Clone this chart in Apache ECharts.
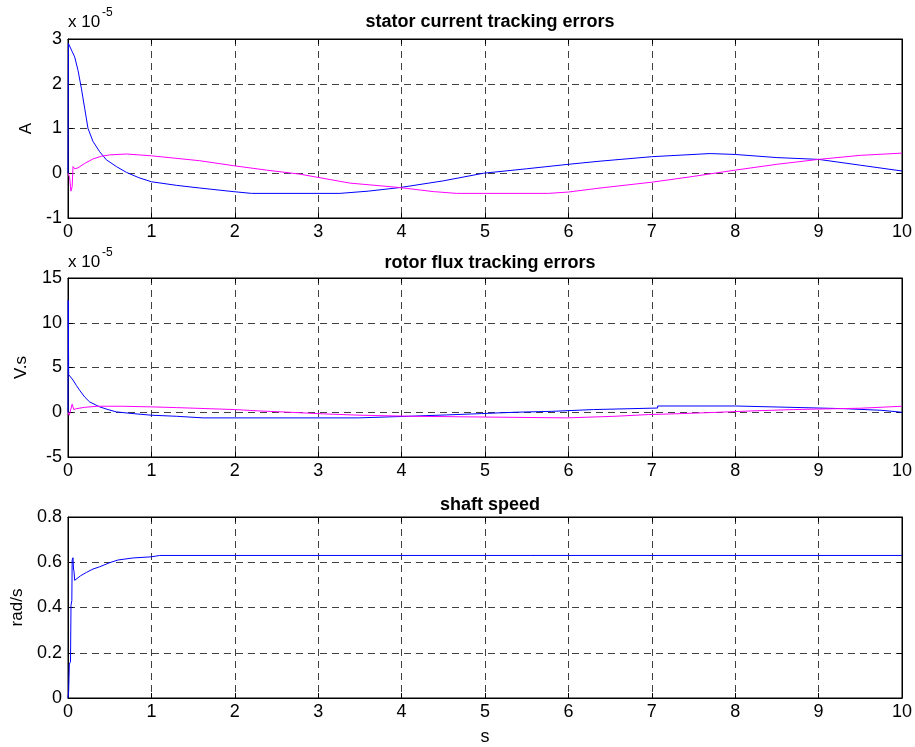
<!DOCTYPE html>
<html>
<head>
<meta charset="utf-8">
<script src="https://cdn.jsdelivr.net/npm/echarts@6/dist/echarts.min.js"></script>
<style>
  html, body { margin: 0; padding: 0; background: #fff; }
  #chart { width: 915px; height: 747px; }
</style>
</head>
<body>
<div id="chart"></div>
<script>
// Time axis ticks (seconds)
const xTicks = [0, 1, 2, 3, 4, 5, 6, 7, 8, 9, 10];

// Stator current tracking errors, in units of 1e-5 A: [t, value]
const statorErrA = [
  [0, 0], [0.005, 2.9], [0.02, 2.86], [0.05, 2.72], [0.08, 2.6], [0.12, 2.3], [0.16, 1.9],
  [0.2, 1.45], [0.24, 1.0], [0.3, 0.71], [0.38, 0.48], [0.46, 0.3], [0.58, 0.15],
  [0.7, 0.02], [0.85, -0.1], [1.0, -0.19], [1.3, -0.27], [1.58, -0.33], [1.98, -0.41],
  [2.2, -0.45], [3.26, -0.45], [3.6, -0.4], [3.98, -0.32], [4.5, -0.17], [4.98, 0],
  [5.5, 0.1], [6.0, 0.2], [6.38, 0.27], [7.0, 0.37], [7.7, 0.44], [8.0, 0.42],
  [8.5, 0.35], [9.0, 0.31], [9.5, 0.18], [10, 0.05]
];
const statorErrB = [
  [0, 0], [0.02, -0.1], [0.035, -0.4], [0.05, -0.3], [0.06, 0.15], [0.08, 0.1],
  [0.12, 0.12], [0.2, 0.22], [0.3, 0.32], [0.4, 0.38], [0.5, 0.41], [0.7, 0.43],
  [1.0, 0.39], [1.58, 0.28], [1.98, 0.17], [2.38, 0.07], [2.78, -0.02], [3.38, -0.22],
  [3.98, -0.32], [4.38, -0.41], [4.66, -0.45], [5.76, -0.45], [6.0, -0.42], [6.38, -0.33],
  [7.0, -0.2], [7.5, -0.07], [8.0, 0.07], [8.5, 0.2], [9.0, 0.31], [9.5, 0.4], [10, 0.45]
];

// Rotor flux tracking errors, in units of 1e-5 V.s: [t, value]
const fluxErrA = [
  [0, 0], [0.003, 12.5], [0.008, 4.2], [0.02, 4.1], [0.06, 3.6], [0.1, 3.0], [0.14, 2.45],
  [0.2, 1.7], [0.26, 1.15], [0.38, 0.6], [0.48, 0.3], [0.58, 0.04], [0.78, -0.15],
  [1.0, -0.33], [1.3, -0.45], [1.62, -0.63], [3.48, -0.63], [3.48, -0.45], [4.08, -0.45],
  [4.08, -0.3], [4.54, -0.3], [4.54, -0.15], [4.96, -0.15], [4.96, 0], [5.36, 0],
  [5.36, 0.1], [5.8, 0.1], [5.8, 0.3], [6.3, 0.3], [6.3, 0.47], [7.07, 0.47],
  [7.07, 0.7], [8.0, 0.7], [8.0, 0.52], [8.8, 0.52], [8.8, 0.4], [9.3, 0.4],
  [9.3, 0.22], [9.75, 0.22], [9.75, 0], [10, 0]
];
const fluxErrB = [
  [0, 0], [0.015, -0.33], [0.03, -0.2], [0.05, 0.9], [0.07, 0.3], [0.1, 0.4],
  [0.2, 0.55], [0.35, 0.67], [0.65, 0.67], [0.65, 0.6], [1.0, 0.6], [1.0, 0.52],
  [1.3, 0.52], [1.3, 0.3], [2.0, 0.3], [2.0, 0.15], [2.29, 0.15], [2.29, 0],
  [2.66, 0], [2.66, -0.18], [3.06, -0.18], [3.06, -0.33], [3.5, -0.33], [3.5, -0.45],
  [4.12, -0.45], [4.12, -0.63], [5.98, -0.63], [5.98, -0.45], [6.56, -0.45],
  [6.56, -0.26], [6.96, -0.26], [6.96, -0.15], [7.36, -0.15], [7.36, 0], [7.8, 0],
  [7.8, 0.15], [8.2, 0.15], [8.2, 0.3], [8.7, 0.3], [8.7, 0.45], [9.5, 0.45],
  [9.5, 0.67], [10, 0.67]
];

// Shaft speed, rad/s: [t, value]
const shaftSpeed = [
  [0, 0], [0.008, 0.03], [0.016, 0.15], [0.03, 0.16], [0.036, 0.41], [0.046, 0.43],
  [0.05, 0.61], [0.06, 0.62], [0.066, 0.57], [0.072, 0.56], [0.08, 0.52], [0.1, 0.523],
  [0.15, 0.54], [0.22, 0.555], [0.3, 0.57], [0.38, 0.58], [0.5, 0.598], [0.6, 0.61],
  [0.78, 0.619], [1.0, 0.624], [1.1, 0.63], [10, 0.63]
];

const panelTitles = ['stator current tracking errors', 'rotor flux tracking errors', 'shaft speed'];
const yNames = ['A', 'V.s', 'rad/s'];
const yRanges = [[-1, 3, 1], [-5, 15, 5], [0, 0.8, 0.2]];

const FONT = '"Liberation Sans", Arial, Helvetica, sans-serif';
const BLUE = '#0000ff';
const MAGENTA = '#ff00ff';

const panels = [
  { top: 39, height: 179, nameGap: 33 },
  { top: 278, height: 179, nameGap: 38 },
  { top: 517, height: 181, nameGap: 41 }
];
const titleTops = [8, 249, 491];

const grid = [], xAxis = [], yAxis = [], title = [];
const dash = { type: [7, 5], color: '#404040', width: 1 };
const axisLine = { show: true, onZero: false, lineStyle: { color: '#000', width: 1 } };

panels.forEach((p, i) => {
  grid.push({ left: 68, right: 13, top: p.top, height: p.height, show: true,
              borderColor: '#000', borderWidth: 1, backgroundColor: '#fff' });
  const [ymin, ymax, yint] = yRanges[i];
  xAxis.push({
    type: 'value', gridIndex: i, min: xTicks[0], max: xTicks[xTicks.length - 1], interval: 1,
    position: 'bottom', axisLine,
    axisTick: { inside: true, length: 5, lineStyle: { color: '#000' } },
    axisLabel: { color: '#000', fontSize: 18, fontFamily: FONT, margin: 5 },
    splitLine: { show: true, lineStyle: dash },
    name: i === 2 ? 's' : '', nameLocation: 'middle', nameGap: 30,
    nameTextStyle: { color: '#000', fontSize: 18, fontFamily: FONT }
  });
  xAxis.push({
    type: 'value', gridIndex: i, min: 0, max: 10, interval: 1, position: 'top', axisLine,
    axisTick: { inside: true, length: 5, lineStyle: { color: '#000' } },
    axisLabel: { show: false }, splitLine: { show: false }
  });
  yAxis.push({
    type: 'value', gridIndex: i, min: ymin, max: ymax, interval: yint, position: 'left', axisLine,
    axisTick: { inside: true, length: 5, lineStyle: { color: '#000' } },
    axisLabel: { color: '#000', fontSize: 18, fontFamily: FONT, margin: 6 },
    splitLine: { show: true, lineStyle: dash },
    name: yNames[i], nameLocation: 'middle', nameGap: p.nameGap, nameRotate: 90,
    nameTextStyle: { color: '#000', fontSize: 17, fontFamily: FONT }
  });
  yAxis.push({
    type: 'value', gridIndex: i, min: ymin, max: ymax, interval: yint, position: 'right', axisLine,
    axisTick: { inside: true, length: 5, lineStyle: { color: '#000' } },
    axisLabel: { show: false }, splitLine: { show: false }
  });
  title.push({
    text: panelTitles[i], left: 485, top: titleTops[i], textAlign: 'center',
    textStyle: { fontSize: 18, fontWeight: 'bold', color: '#000', fontFamily: FONT }
  });
});

function line(data, color, gi) {
  return {
    type: 'line', data, xAxisIndex: gi * 2, yAxisIndex: gi * 2, showSymbol: false,
    symbol: 'none', animation: false, clip: true,
    lineStyle: { color, width: 1 }, itemStyle: { color }, z: 5
  };
}

// Scale-exponent labels for the two error panels
function exponentLabel(y) {
  return [
    { type: 'text', left: 68, top: y, style: { text: 'x 10', fontSize: 17, fontFamily: FONT, fill: '#000' } },
    { type: 'text', left: 102, top: y - 7, style: { text: '-5', fontSize: 12, fontFamily: FONT, fill: '#000' } }
  ];
}

const chart = echarts.init(document.getElementById('chart'), null, { renderer: 'canvas' });
chart.setOption({
  backgroundColor: '#fff',
  animation: false,
  title, grid, xAxis, yAxis,
  graphic: [...exponentLabel(14), ...exponentLabel(254)],
  series: [
    line(statorErrA, BLUE, 0), line(statorErrB, MAGENTA, 0),
    line(fluxErrA, BLUE, 1), line(fluxErrB, MAGENTA, 1),
    line(shaftSpeed, BLUE, 2)
  ]
});
</script>
</body>
</html>
